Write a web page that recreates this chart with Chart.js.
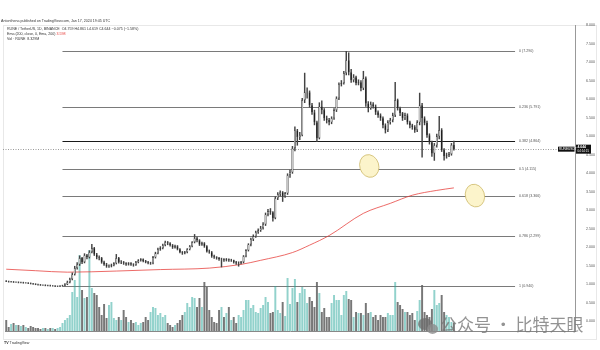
<!DOCTYPE html>
<html>
<head>
<meta charset="utf-8">
<script src="https://cdn.jsdelivr.net/npm/chart.js@4.4.1/dist/chart.umd.min.js"></script>
<style>
  html, body { margin: 0; padding: 0; background: #fff; }
  #wrap { position: relative; width: 600px; height: 350px; overflow: hidden; font-family: "Liberation Sans", Arial, sans-serif; }
  #frame { position: absolute; left: 3px; top: 25px; width: 594px; height: 315px; border: 1px solid #e8e8e8; box-sizing: border-box; }
  canvas { position: absolute; left: 0; top: 0; }
  .hd { position: absolute; white-space: nowrap; font-size: 3.6px; line-height: 4px; color: #333; }
  .red { color: #e53935; }
  #wm { position: absolute; left: 440px; top: 315px; font-family: "Noto Sans CJK SC", sans-serif; font-size: 17px; line-height: 18px; color: rgba(120,120,120,0.8); white-space: nowrap; }
  .bub { position: absolute; border-radius: 50%; background: rgba(110,110,110,0.75); }
</style>
</head>
<body>
<div id="wrap">
  <div id="frame"></div>
  <canvas id="c" width="600" height="350"></canvas>
  <div class="hd" style="left:1px;top:19px;">Antonthena published on TradingView.com, Jan 17, 2024 19:45 UTC</div>
  <div class="hd" style="left:7px;top:27px;">RUNE / TetherUS, 1D, BINANCE&nbsp; O4.759 H4.861 L4.619 C4.644 −0.075 (−1.58%)</div>
  <div class="hd" style="left:7px;top:32px;">Ema (200, close, 0, Ema, 200) <span class="red">3.598</span></div>
  <div class="hd" style="left:7px;top:37px;">Vol · RUNE&nbsp; 8.329M</div>
  <div class="hd" style="left:4px;top:341px;font-weight:bold;">TV <span style="font-weight:normal">TradingView</span></div>
  <div class="bub" style="left:418px;top:318px;width:14px;height:12px;"></div>
  <div class="bub" style="left:427px;top:324px;width:11px;height:10px;background:rgba(140,140,140,0.8);"></div>
  <div id="wm">公众号 · 比特天眼</div>
</div>
<script>
// RUNE/USDT daily, Jul 18 2023 -> Jan 17 2024
const closes = [
  1.07,1.06,1.06,1.05,1.05,1.04,1.04,1.03,1.03,1.02,
  1.01,1.00,0.99,0.98,0.97,0.97,0.96,0.96,0.95,0.95,
  0.94,0.94,0.95,0.96,0.99,1.05,1.13,1.26,1.43,1.53,
  1.70,1.59,1.78,1.72,1.86,1.97,1.80,1.72,1.70,1.59,
  1.53,1.48,1.48,1.51,1.56,1.70,1.59,1.59,1.56,1.53,
  1.56,1.53,1.51,1.59,1.64,1.67,1.62,1.59,1.56,1.56,
  1.72,1.83,1.94,1.97,2.05,2.13,2.10,2.05,1.99,2.02,
  1.94,1.86,1.83,1.86,1.94,2.02,2.13,2.24,2.18,2.07,
  2.10,2.02,1.88,1.86,1.75,1.72,1.70,1.67,1.67,1.64,
  1.67,1.64,1.64,1.59,1.56,1.56,1.59,1.75,1.91,2.07,
  2.21,2.29,2.40,2.45,2.51,2.61,2.88,2.97,2.94,2.78,
  3.32,3.43,3.48,3.37,3.45,3.94,4.02,4.67,5.15,4.97,
  5.02,5.97,6.18,6.18,5.83,5.64,5.37,4.94,5.80,5.70,
  5.48,5.43,5.37,5.48,5.70,6.02,6.40,6.43,6.70,7.05,
  6.72,6.51,6.59,6.43,6.45,6.29,6.56,5.88,5.75,5.86,
  5.80,5.64,5.56,5.48,5.29,5.16,5.37,5.43,5.56,5.97,
  5.75,5.62,5.48,5.56,5.37,5.29,5.24,5.16,5.37,5.83,
  5.48,5.35,5.02,4.83,4.53,4.75,4.99,5.16,4.62,4.45,
  4.48,4.51,4.759,4.644
];
const highs = [
  1.09,1.08,1.07,1.07,1.06,1.06,1.05,1.05,1.04,1.04,
  1.03,1.02,1.01,1.00,0.99,0.98,0.98,0.97,0.97,0.96,
  0.96,0.95,0.96,0.97,1.01,1.08,1.16,1.30,1.48,1.58,
  1.76,1.72,1.82,1.80,1.90,2.07,1.99,1.83,1.76,1.72,
  1.62,1.56,1.52,1.54,1.58,1.80,1.72,1.63,1.61,1.58,
  1.58,1.58,1.55,1.61,1.66,1.69,1.68,1.64,1.61,1.59,
  1.75,1.86,1.97,2.01,2.08,2.16,2.15,2.12,2.07,2.05,
  2.04,1.96,1.88,1.88,1.96,2.04,2.15,2.34,2.27,2.20,
  2.13,2.12,2.04,1.92,1.88,1.78,1.74,1.72,1.70,1.69,
  1.69,1.68,1.67,1.65,1.61,1.60,1.61,1.77,1.93,2.09,
  2.24,2.33,2.43,2.49,2.56,2.66,2.92,3.02,3.04,2.96,
  3.36,3.47,3.52,3.50,3.48,3.98,4.08,4.72,5.25,5.18,
  5.10,6.02,6.70,6.30,6.22,5.88,5.70,5.40,5.90,5.95,
  5.74,5.54,5.48,5.52,5.74,6.06,6.44,6.50,6.75,7.29,
  7.25,6.80,6.66,6.62,6.52,6.50,6.75,6.60,5.93,5.92,
  5.90,5.84,5.68,5.60,5.52,5.33,5.42,5.48,5.62,6.45,
  6.00,5.78,5.64,5.62,5.60,5.40,5.32,5.28,5.42,6.16,
  5.88,5.52,5.40,5.06,4.86,4.80,5.05,5.53,5.20,4.66,
  4.54,4.56,4.80,4.861
];
const lows = [
  1.06,1.05,1.05,1.04,1.04,1.03,1.03,1.02,1.02,1.01,
  1.00,0.99,0.98,0.97,0.96,0.96,0.95,0.95,0.94,0.94,
  0.93,0.93,0.93,0.94,0.95,0.98,1.03,1.11,1.24,1.40,
  1.50,1.55,1.57,1.68,1.70,1.84,1.77,1.68,1.65,1.56,
  1.50,1.45,1.45,1.46,1.49,1.54,1.56,1.55,1.53,1.50,
  1.51,1.50,1.48,1.50,1.57,1.62,1.60,1.57,1.54,1.53,
  1.54,1.70,1.81,1.91,1.95,2.03,2.06,2.02,1.96,1.97,
  1.92,1.84,1.80,1.81,1.84,1.92,2.00,2.11,2.14,2.04,
  2.04,1.99,1.86,1.83,1.72,1.69,1.67,1.64,1.46,1.61,
  1.62,1.61,1.61,1.56,1.53,1.48,1.54,1.57,1.73,1.89,
  2.03,2.17,2.26,2.37,2.42,2.48,2.58,2.84,2.88,2.70,
  2.76,3.28,3.38,3.23,3.34,3.42,3.88,3.99,4.60,4.75,
  4.90,5.00,5.90,6.02,5.78,5.58,5.30,4.85,4.92,5.60,
  5.42,5.35,5.30,5.33,5.45,5.66,5.98,6.35,6.40,6.65,
  6.65,6.45,6.46,6.38,6.38,6.22,6.25,5.80,5.65,5.72,
  5.75,5.58,5.50,5.42,5.22,5.08,5.12,5.32,5.38,5.52,
  5.70,5.55,5.42,5.44,5.32,5.22,5.18,5.10,5.12,5.30,
  4.43,5.30,4.96,4.78,4.45,4.34,4.70,4.92,4.58,4.35,
  4.40,4.44,4.48,4.619
];
// volume in millions RUNE
const volumes = [
  11,4,7,8,6,6,5,6,4,3,
  5,4,3,3,2,3,3,2,3,3,
  2,3,4,8,11,13,16,39,51,34,
  76,41,33,34,81,43,38,36,24,16,
  27,13,26,29,13,11,14,11,21,14,
  9,11,8,9,6,8,9,14,11,19,
  24,23,16,18,14,16,8,6,4,6,
  8,11,16,19,28,24,34,33,24,33,
  24,49,44,21,14,9,8,21,24,14,
  18,24,11,14,8,16,14,21,31,31,
  23,26,19,18,23,26,34,29,18,19,
  45,21,18,29,15,53,27,43,52,29,
  38,44,42,28,34,30,24,49,38,19,
  23,14,14,28,36,31,31,16,36,40,
  32,31,14,19,18,18,16,28,18,19,
  14,16,11,16,14,14,18,16,16,49,
  29,26,22,19,19,16,18,11,20,31,
  46,19,16,14,22,41,26,28,36,19,
  16,14,9,8.3
];
const firstOpen = 1.08;

// EMA 200
const emaDays   = [0, 12, 25, 45, 63, 83, 96, 104, 117, 124, 132, 146, 157, 166, 176, 183];
const emaValues = [1.40, 1.36, 1.32, 1.35, 1.39, 1.43, 1.53, 1.64, 1.85, 2.05, 2.31, 2.91, 3.18, 3.40, 3.53, 3.598];

// fib retracement
const fibLevels = [0, 0.236, 0.382, 0.5, 0.618, 0.786, 1];
const fibPrices = [7.29, 5.791, 4.864, 4.115, 3.366, 2.299, 0.94];
const fibFrom = 23, fibTo = 208;

// x axis
const totalDays = 233;
const tickDays  = [5, 16, 29, 38, 47, 57, 66, 76, 91, 108, 119, 127, 136, 147, 156, 167, 181, 193, 203, 212, 222];
const tickNames = ['24','Aug','14','21','Sep','11','25','Oct','16','Nov','13','27','Dec','11','25','2024','15','Feb','12','26','Mar'];

const opens = closes.map((c, i) => i === 0 ? firstOpen : closes[i - 1]);
const isUp = closes.map((c, i) => c >= opens[i]);

const dayLabels = new Array(totalDays).fill('');
tickDays.forEach((d, k) => { dayLabels[d] = tickNames[k]; });

const emaLine = new Array(totalDays).fill(null);
emaDays.forEach((d, k) => { emaLine[d] = emaValues[k]; });

const FONT = '"Liberation Sans", Arial, sans-serif';
Chart.defaults.font.family = FONT;

const tvOverlay = {
  id: 'tvOverlay',
  beforeDatasetsDraw(chart) {
    const { ctx, chartArea: a, scales: { x, y } } = chart;
    ctx.save();
    fibPrices.forEach((p, k) => {
      const py = Math.round(y.getPixelForValue(p)) + 0.5;
      ctx.strokeStyle = fibLevels[k] === 0.382 ? '#1a1a1a' : '#7a7a7a';
      ctx.lineWidth = 1;
      ctx.beginPath();
      ctx.moveTo(x.getPixelForValue(fibFrom), py);
      ctx.lineTo(x.getPixelForValue(fibTo), py);
      ctx.stroke();
    });
    // last price line
    const ly = Math.round(y.getPixelForValue(closes[closes.length - 1])) + 0.5;
    ctx.setLineDash([1, 1.5]);
    ctx.strokeStyle = '#9a9a9a';
    ctx.beginPath();
    ctx.moveTo(a.left - 2, ly);
    ctx.lineTo(a.right, ly);
    ctx.stroke();
    ctx.restore();
  },
  afterDatasetsDraw(chart) {
    const { ctx, scales: { x, y } } = chart;
    ctx.save();
    ctx.font = '3.6px ' + FONT;
    ctx.fillStyle = '#555';
    ctx.textBaseline = 'middle';
    fibPrices.forEach((p, k) => {
      ctx.fillText(fibLevels[k] + ' (' + p.toFixed(3) + ')', x.getPixelForValue(fibTo) + 4, y.getPixelForValue(p));
    });
    // the two highlighted zones
    [[148.4, 4.19], [191.6, 3.39]].forEach(([d, p]) => {
      ctx.beginPath();
      ctx.ellipse(x.getPixelForValue(d), y.getPixelForValue(p), 9.5, 11.5, -0.3, 0, Math.PI * 2);
      ctx.fillStyle = '#fcf4cb';
      ctx.fill();
      ctx.strokeStyle = '#cdb968';
      ctx.lineWidth = 0.8;
      ctx.stroke();
    });
    ctx.restore();
  },
  afterDraw(chart) {
    const { ctx, chartArea: a, scales: { y } } = chart;
    const last = closes[closes.length - 1];
    const py = y.getPixelForValue(last);
    ctx.save();
    ctx.fillStyle = '#111';
    ctx.fillRect(a.right - 17, py - 2.5, 16.5, 5);
    ctx.fillRect(a.right + 1, py - 4.5, 15, 9);
    ctx.fillStyle = '#fff';
    ctx.font = '3.2px ' + FONT;
    ctx.textBaseline = 'middle';
    ctx.fillText('RUNEUSDT', a.right - 16, py);
    ctx.font = 'bold 3.4px ' + FONT;
    ctx.fillText(last.toFixed(3), a.right + 2.5, py - 2);
    ctx.font = '3px ' + FONT;
    ctx.fillText('04:14:15', a.right + 2.5, py + 2.2);
    ctx.restore();
  }
};

new Chart(document.getElementById('c'), {
  type: 'bar',
  data: {
    labels: dayLabels,
    datasets: [{
      label: 'Candles',
      data: closes.map((c, i) => [opens[i], c]),
      backgroundColor: isUp.map(u => u ? '#ffffff' : '#111111'),
      borderColor: '#3a3a3a',
      borderWidth: 0.6,
      borderSkipped: false,
      grouped: false,
      barPercentage: 0.78,
      categoryPercentage: 1,
      yAxisID: 'y',
      order: 0
    }, {
      label: 'Wicks',
      data: closes.map((c, i) => [lows[i], highs[i]]),
      backgroundColor: '#444',
      barThickness: 0.8,
      grouped: false,
      yAxisID: 'y',
      order: 1
    }, {
      type: 'line',
      label: 'EMA 200',
      data: emaLine,
      borderColor: 'rgba(229,57,53,0.75)',
      borderWidth: 1,
      pointRadius: 0,
      spanGaps: true,
      cubicInterpolationMode: 'monotone',
      yAxisID: 'y',
      order: 2
    }, {
      label: 'Volume',
      data: volumes,
      backgroundColor: isUp.map(u => u ? 'rgba(38,166,154,0.5)' : 'rgba(95,95,95,0.85)'),
      grouped: false,
      barPercentage: 0.8,
      categoryPercentage: 1,
      yAxisID: 'v',
      order: 3
    }]
  },
  options: {
    responsive: false,
    animation: false,
    layout: { padding: { left: 5, right: 3, top: 25, bottom: 11 } },
    plugins: { legend: { display: false }, tooltip: { enabled: false } },
    scales: {
      x: {
        grid: { display: false },
        border: { color: '#888' },
        ticks: {
          autoSkip: false,
          maxRotation: 0,
          padding: 2,
          color: '#555',
          font: { size: 3.6 },
          callback: (v) => dayLabels[v]
        },
        afterFit: (s) => { s.height = 8; }
      },
      y: {
        position: 'right',
        min: -0.27,
        max: 8.0,
        grid: { display: false },
        border: { color: '#999' },
        ticks: {
          stepSize: 0.5,
          includeBounds: false,
          padding: 3,
          color: '#555',
          font: { size: 3.6 },
          callback: (v) => v.toFixed(3)
        },
        afterFit: (s) => { s.width = 22; }
      },
      v: {
        display: false,
        min: 0,
        max: 306
      }
    }
  },
  plugins: [tvOverlay]
});
</script>
</body>
</html>
